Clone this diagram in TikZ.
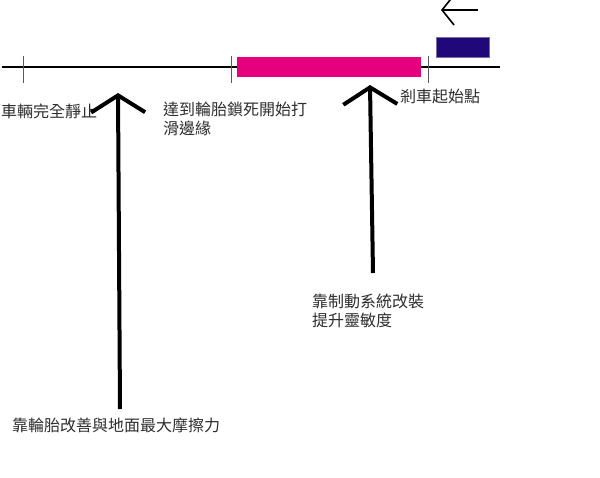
\documentclass[tikz,border=0pt]{standalone}
\usepackage{fontspec}
\setmainfont{Noto Sans CJK TC}
\usetikzlibrary{arrows.meta}
\definecolor{brakepink}{RGB}{230,0,126}
\definecolor{carnavy}{RGB}{32,8,122}
\definecolor{carrim}{RGB}{120,110,160}
\definecolor{labelgray}{RGB}{45,45,45}
\tikzset{
  lbl/.style={inner sep=0pt,text=labelgray,font=\fontsize{16}{18.5}\selectfont,align=left},
  tick/.style={line width=0.8pt,black!65},
  bigarrow/.style={line width=4pt,-{Straight Barb[length=17pt,width=54pt]}},
  smallarrow/.style={line width=1.6pt,-{Straight Barb[length=12pt,width=30pt]}},
}
\begin{document}
\begin{tikzpicture}[x=1pt,y=-1pt]
  \useasboundingbox (0,0) rectangle (600,477);
  % road and marks
  \coordinate (roadL) at (2,67);
  \coordinate (roadR) at (500,67);
  \draw[line width=1.3pt] (roadL)--(roadR);
  \draw[tick](23,56)--++(0,27);
  \draw[tick](231,56)--++(0,27);
  \draw[tick](428,56)--++(0,27);
  \fill[brakepink](237,57) rectangle (421,77);
  % car
  \draw[carrim,line width=1pt,fill=carnavy](436,37) rectangle (489,57);
  \coordinate (carT) at (478,10);
  \coordinate (carH) at (441,10);
  \draw[smallarrow](carT)--(carH);
  % labels
  \node[lbl,anchor=west] (stop) at (1,111){車輛完全靜止};
  \node[lbl,anchor=north west] (lock) at (163,102){達到輪胎鎖死開始打\\滑邊緣};
  \node[lbl,anchor=west] (start) at (400,96){剎車起始點};
  \node[lbl,anchor=north west] (brake) at (312,294){靠制動系統改裝\\提升靈敏度};
  \node[lbl,anchor=west] (tire) at (12,425){靠輪胎改善與地面最大摩擦力};
  % arrows
  \coordinate (tipL) at (118,93);
  \coordinate (tailL) at (120,409);
  \coordinate (tipR) at (370,85);
  \coordinate (tailR) at (373,273);
  \draw[bigarrow](tailL)--(tipL);
  \draw[bigarrow](tailR)--(tipR);
\end{tikzpicture}
\end{document}
